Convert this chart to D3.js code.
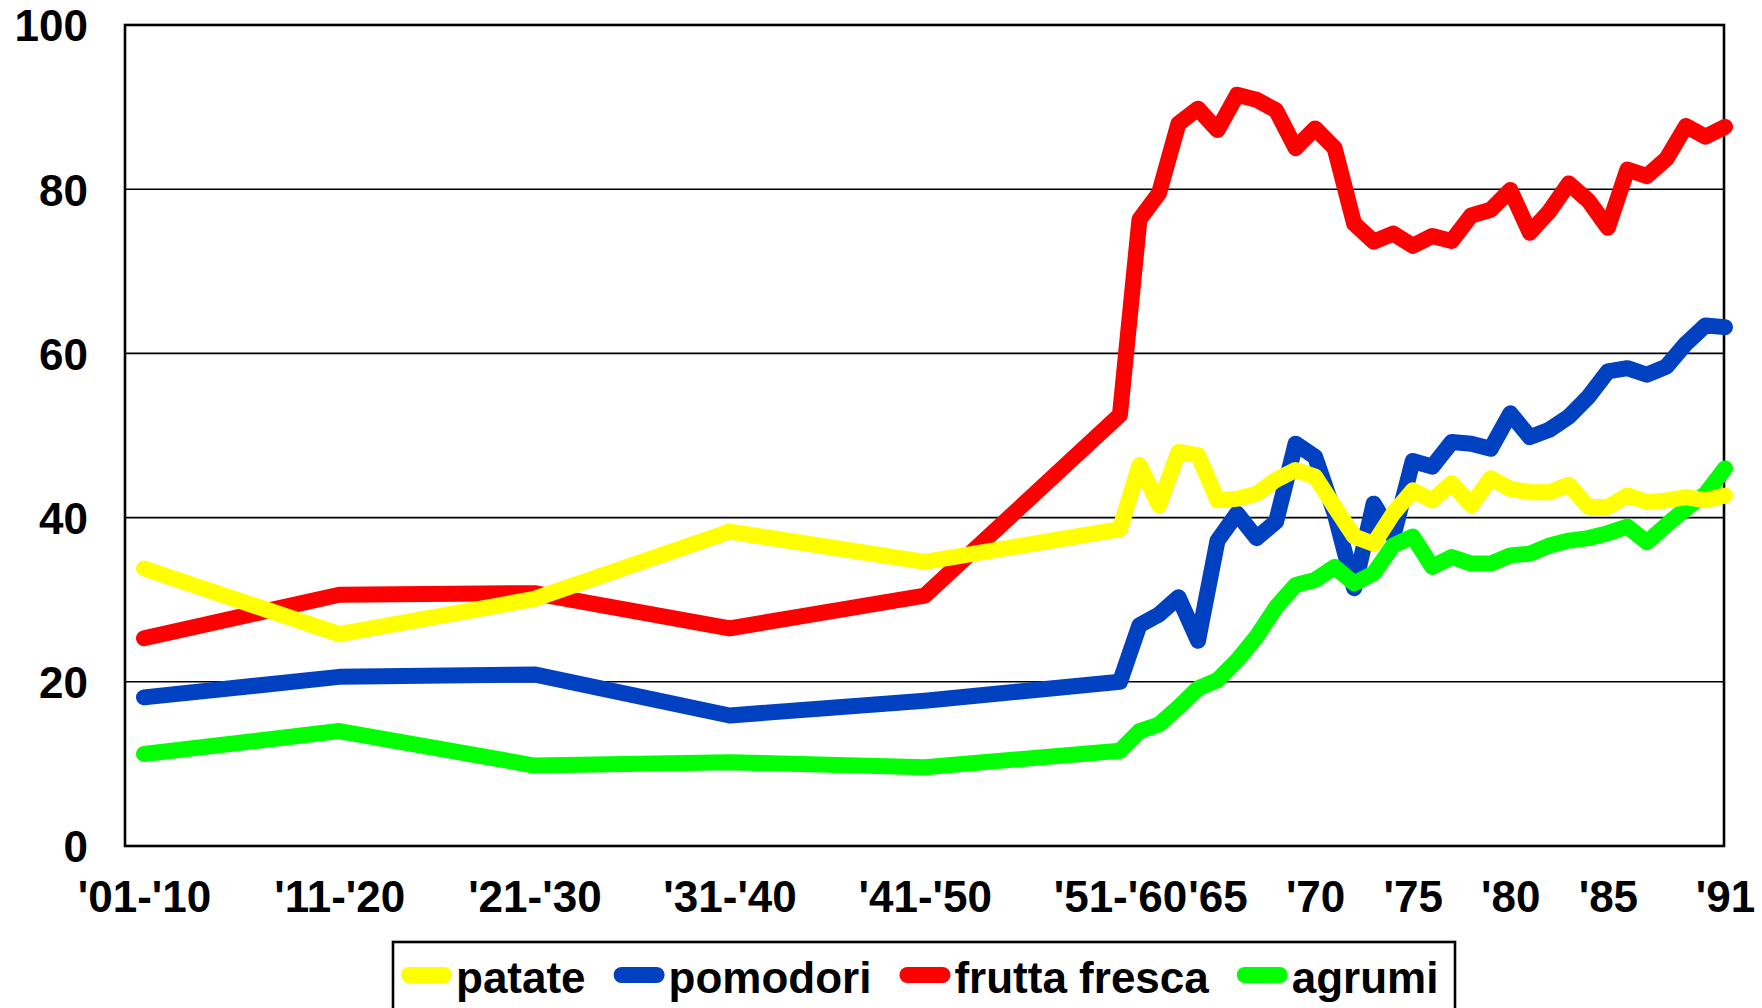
<!DOCTYPE html>
<html>
<head>
<meta charset="utf-8">
<script src="https://cdn.jsdelivr.net/npm/d3@7"></script>
<style>
  html, body { margin: 0; padding: 0; background: #fff; }
  svg { display: block; }
  text { font-family: "Liberation Sans", Arial, sans-serif; font-weight: bold; fill: #000; }
</style>
</head>
<body>
<svg id="chart" width="1762" height="1008"></svg>
<script>
// Decade averages (plotted at 1910..1960), then yearly values 1961..1991
const years = [1910, 1920, 1930, 1940, 1950, 1960,
  1961, 1962, 1963, 1964, 1965, 1966, 1967, 1968, 1969, 1970,
  1971, 1972, 1973, 1974, 1975, 1976, 1977, 1978, 1979, 1980,
  1981, 1982, 1983, 1984, 1985, 1986, 1987, 1988, 1989, 1990, 1991];

const patate = [33.8, 25.8, 30.1, 38.3, 34.6, 38.6,
  46.4, 41.5, 48.0, 47.6, 42.1, 42.3, 42.9, 44.6, 45.8, 45.0,
  41.3, 37.7, 36.8, 40.5, 43.3, 42.1, 44.2, 41.5, 44.8, 43.5,
  43.1, 43.1, 44.0, 41.3, 41.3, 42.7, 41.9, 42.1, 42.5, 42.1, 42.7];

const pomodori = [18.1, 20.6, 20.9, 15.9, 17.7, 20.0,
  26.9, 28.2, 30.3, 25.0, 37.2, 40.5, 37.5, 39.5, 49.0, 47.4,
  40.5, 31.4, 41.7, 37.7, 46.9, 46.2, 49.2, 49.0, 48.4, 52.7,
  49.8, 50.7, 52.3, 54.7, 57.8, 58.2, 57.4, 58.4, 61.2, 63.4, 63.2];

const fruttaFresca = [25.3, 30.6, 30.8, 26.5, 30.5, 52.5,
  76.3, 79.5, 88.0, 89.8, 87.2, 91.5, 90.9, 89.6, 85.0, 87.4,
  85.0, 75.8, 73.6, 74.6, 73.1, 74.3, 73.7, 76.8, 77.5, 79.9,
  74.7, 77.3, 80.7, 78.6, 75.3, 82.4, 81.6, 83.7, 87.7, 86.4, 87.6];

const agrumi = [11.2, 14.0, 9.8, 10.2, 9.6, 11.6,
  14.0, 14.8, 16.9, 19.2, 20.2, 22.6, 25.5, 29.1, 31.8, 32.4,
  34.0, 32.0, 33.2, 36.6, 37.7, 34.0, 35.2, 34.4, 34.4, 35.4,
  35.6, 36.6, 37.2, 37.5, 38.1, 38.9, 37.0, 39.1, 41.1, 42.9, 46.0];

const tickYears = [1910, 1920, 1930, 1940, 1950, 1960, 1965, 1970, 1975, 1980, 1985, 1991];
const tickLabels = ["'01-'10", "'11-'20", "'21-'30", "'31-'40", "'41-'50", "'51-'60",
  "'65", "'70", "'75", "'80", "'85", "'91"];
const yTicks = [0, 20, 40, 60, 80, 100];

const seriesNames = ["patate", "pomodori", "frutta fresca", "agrumi"];
const seriesColors = ["#ffff00", "#0041c2", "#ff0000", "#00ff00"];
const seriesValues = [patate, pomodori, fruttaFresca, agrumi];
// drawing order: red first, yellow on top
const drawOrder = [2, 1, 3, 0];

const plot = { left: 125, right: 1724, top: 25, bottom: 846 };
const svg = d3.select("#chart");

const x = d3.scaleLinear().domain([1910, 1991]).range([144, 1725]);
const y = d3.scaleLinear().domain([0, 100]).range([plot.bottom, plot.top]);

// horizontal gridlines
svg.append("g")
  .selectAll("line")
  .data(yTicks.filter(v => v > 0 && v < 100))
  .join("line")
  .attr("x1", plot.left).attr("x2", plot.right)
  .attr("y1", d => y(d)).attr("y2", d => y(d))
  .attr("stroke", "#000").attr("stroke-width", 1.6);

// y axis labels
const yAxis = d3.axisLeft(y).tickValues(yTicks).tickSize(0).tickPadding(0);
const gy = svg.append("g").attr("transform", "translate(88,0)").call(yAxis);
gy.select(".domain").remove();
gy.selectAll("text")
  .attr("dy", "0.36em")
  .style("font-size", "44px")
  .style("font-family", "'Liberation Sans', Arial, sans-serif")
  .style("font-weight", "bold")
  .attr("fill", "#000");

// x axis labels
const xAxis = d3.axisBottom(x).tickValues(tickYears)
  .tickFormat((d, i) => tickLabels[i]).tickSize(0).tickPadding(0);
const gx = svg.append("g").attr("transform", "translate(0,881)").call(xAxis);
gx.select(".domain").remove();
gx.selectAll("text")
  .attr("dy", "0.71em")
  .style("font-size", "44px")
  .style("font-family", "'Liberation Sans', Arial, sans-serif")
  .style("font-weight", "bold")
  .attr("fill", "#000");

// plot frame
svg.append("rect")
  .attr("x", plot.left).attr("y", plot.top)
  .attr("width", plot.right - plot.left).attr("height", plot.bottom - plot.top)
  .attr("fill", "none").attr("stroke", "#000").attr("stroke-width", 2.6);

// series lines
const line = d3.line().x((d, i) => x(years[i])).y(d => y(d));
svg.append("g")
  .selectAll("path")
  .data(drawOrder)
  .join("path")
  .attr("d", k => line(seriesValues[k]))
  .attr("fill", "none")
  .attr("stroke", k => seriesColors[k])
  .attr("stroke-width", 16)
  .attr("stroke-linecap", "round")
  .attr("stroke-linejoin", "round");

// legend
const legend = svg.append("g");
legend.append("rect")
  .attr("x", 393).attr("y", 942)
  .attr("width", 1062).attr("height", 80)
  .attr("fill", "#fff").attr("stroke", "#000").attr("stroke-width", 2.6);

let lx = 401;
seriesNames.forEach((name, i) => {
  legend.append("line")
    .attr("x1", lx + 8).attr("x2", lx + 43)
    .attr("y1", 975).attr("y2", 975)
    .attr("stroke", seriesColors[i]).attr("stroke-width", 16)
    .attr("stroke-linecap", "round");
  const t = legend.append("text")
    .attr("x", lx + 55).attr("y", 993)
    .style("font-size", "44px")
    .text(name);
  lx = lx + 55 + t.node().getComputedTextLength() + 28;
});
</script>
</body>
</html>
